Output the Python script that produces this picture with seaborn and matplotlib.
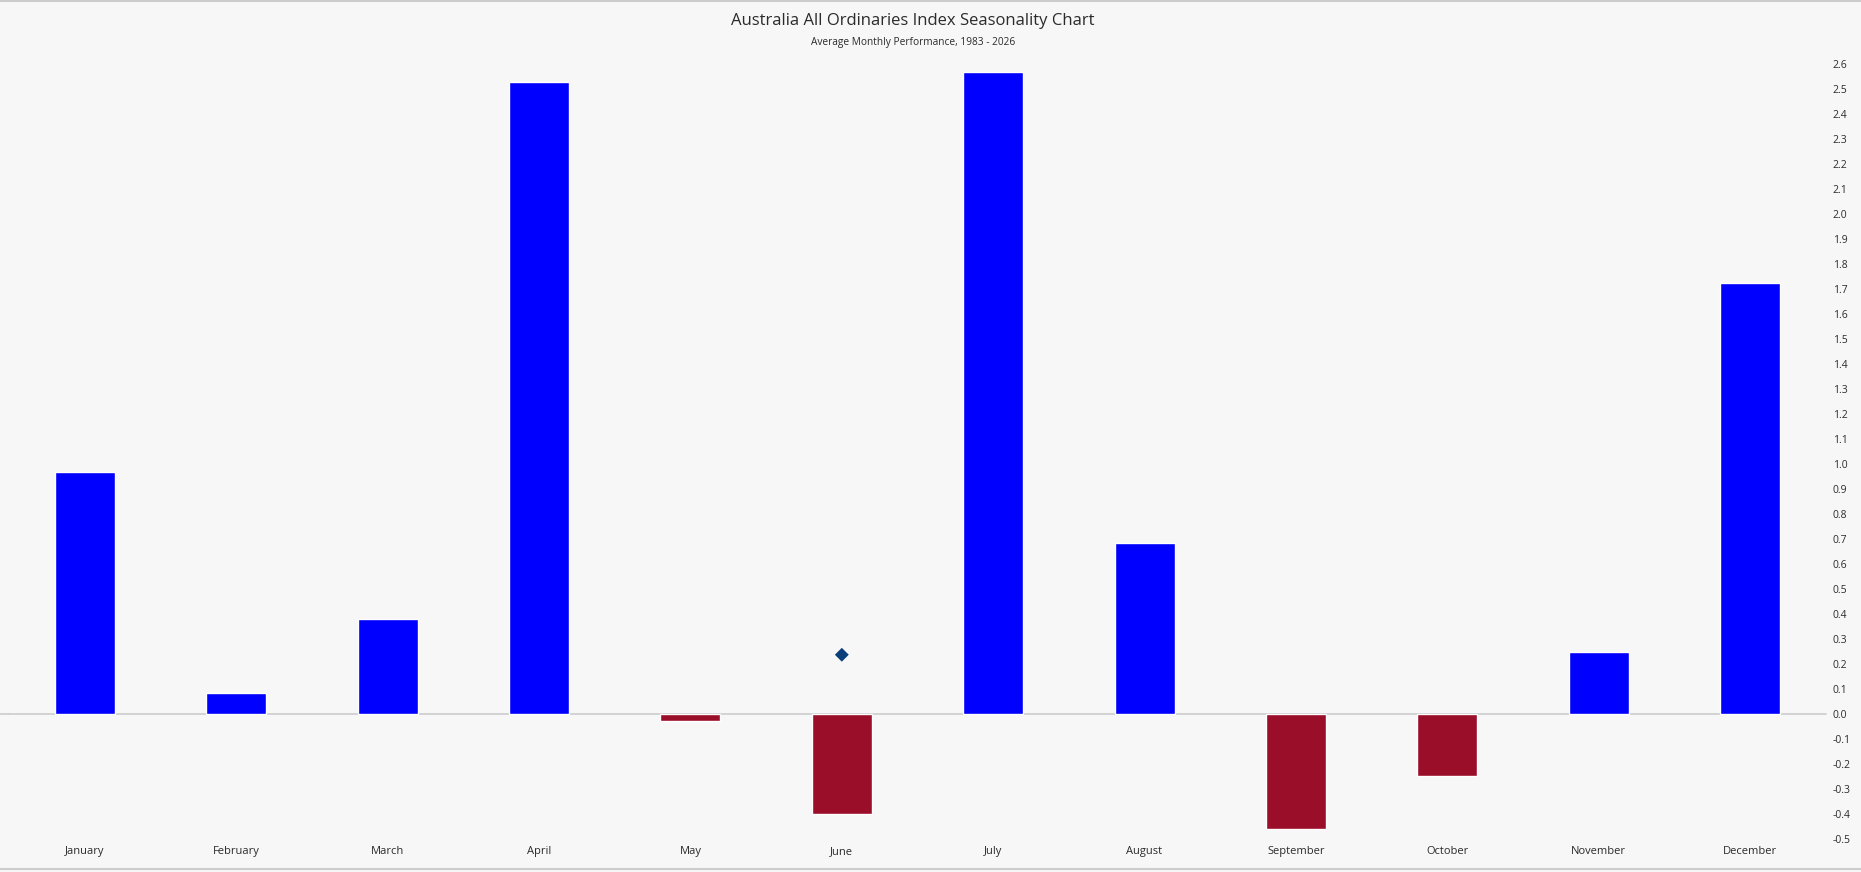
import numpy as np
import pandas as pd
import matplotlib.pyplot as plt
import seaborn as sns
from matplotlib.lines import Line2D

months = ["January", "February", "March", "April", "May", "June",
          "July", "August", "September", "October", "November", "December"]
avg_return = [0.97, 0.084, 0.38, 2.53, -0.028, -0.40,
              2.57, 0.684, -0.46, -0.248, 0.248, 1.724]
marker_month = ["June"]
marker_value = [0.237]
y_ticks = [round(v, 1) + 0.0 for v in np.arange(-5, 27) / 10]

sns.set_theme(style="white")
plt.rcParams["font.family"] = ["Open Sans", "DejaVu Sans"]

bg = "#f7f7f7"
text_col = "#2b2b2b"

df = pd.DataFrame({"month": months, "value": avg_return})
df["sign"] = np.where(df["value"] >= 0, "up", "down")
mk = pd.DataFrame({"month": marker_month, "value": marker_value})

fig = plt.figure(figsize=(18.61, 8.72), dpi=100, facecolor=bg)
ax = fig.add_axes([9.3 / 1861, 27 / 872, 1816.4 / 1861, 790 / 872])
ax.set_facecolor(bg)

sns.barplot(data=df, x="month", y="value", hue="sign", order=months,
            palette={"up": "#0000ff", "down": "#9b0e2a"}, dodge=False,
            width=0.396, saturation=1, legend=False, ax=ax)
sns.scatterplot(data=mk, x="month", y="value", marker="D", s=50,
                color="#0a3f7a", edgecolor="none", ax=ax, zorder=5)

ax.axhline(0, color="#cccccc", lw=1.2, zorder=0, clip_on=False)
ax.set_xlim(-0.5, 11.5)
ax.set_ylim(-0.524, 2.636)
ax.set_yticks(y_ticks)
ax.set_yticklabels([f"{abs(v):.1f}" if v == 0 else f"{v:.1f}" for v in y_ticks])
ax.yaxis.tick_right()
ax.tick_params(axis="y", length=0, pad=5, labelsize=7.5, labelcolor=text_col)
ax.tick_params(axis="x", length=0, pad=1, labelsize=8, labelcolor=text_col)
ax.set_xlabel("")
ax.set_ylabel("")
for s in ax.spines.values():
    s.set_visible(False)

fig.text(913 / 1861, 1 - 21 / 872, "Australia All Ordinaries Index Seasonality Chart",
         ha="center", va="center", fontsize=12, color=text_col)
fig.text(913 / 1861, 1 - 42 / 872, "Average Monthly Performance, 1983 - 2026",
         ha="center", va="center", fontsize=7.3, color=text_col)

# zero line runs to the left edge of the figure, frame lines top and bottom
fig.add_artist(Line2D([0, 9.3 / 1861], [1 - 714 / 872, 1 - 714 / 872], color="#cccccc", lw=1.2))
fig.add_artist(Line2D([0, 1], [1 - 1.5 / 872, 1 - 1.5 / 872], color="#cccccc", lw=1.5))
fig.add_artist(Line2D([0, 1], [3 / 872, 3 / 872], color="#cccccc", lw=1.5))

fig.savefig("out.png", dpi=100, facecolor=bg)
